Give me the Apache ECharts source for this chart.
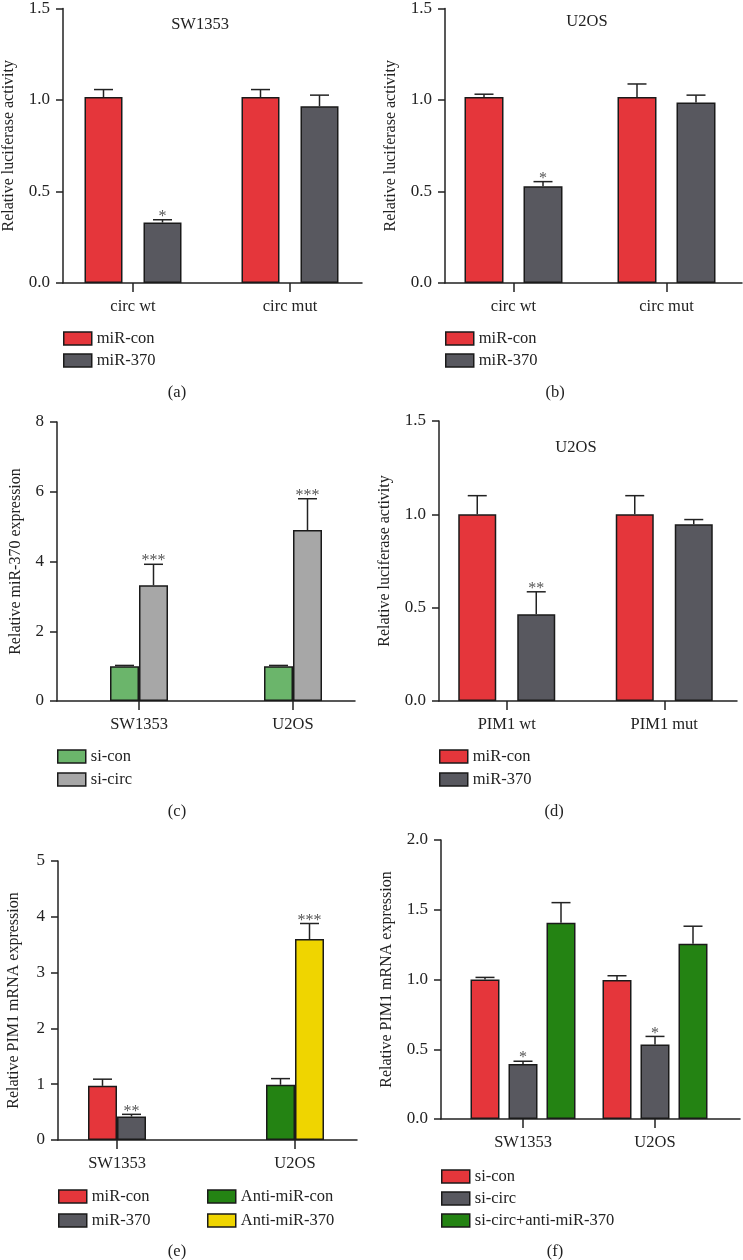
<!DOCTYPE html>
<html><head><meta charset="utf-8">
<script src="https://cdn.jsdelivr.net/npm/echarts@6/dist/echarts.min.js"></script>
<style>html,body{margin:0;padding:0;background:#fff}#c{width:743px;height:1260px}</style>
</head><body><div id="c"></div><script>
// ---------------- data ----------------
// (a) SW1353 luciferase
const catsA = ['circ wt', 'circ mut'];
const aCon = [1.0, 1.0];      const aConErr = [0.04, 0.04];
const a370 = [0.325, 0.95];   const a370Err = [0.015, 0.06];
const a370Sig = ['*', ''];
// (b) U2OS luciferase
const catsB = ['circ wt', 'circ mut'];
const bCon = [1.0, 1.0];      const bConErr = [0.015, 0.07];
const b370 = [0.52, 0.97];    const b370Err = [0.025, 0.04];
const b370Sig = ['*', ''];
// (c) miR-370 expression
const catsC = ['SW1353', 'U2OS'];
const cSiCon = [1.0, 1.0];    const cSiConErr = [0.02, 0.02];
const cSiCirc = [3.32, 4.9];  const cSiCircErr = [0.6, 0.9];
const cSiCircSig = ['***', '***'];
// (d) U2OS PIM1 luciferase
const catsD = ['PIM1 wt', 'PIM1 mut'];
const dCon = [1.0, 1.0];      const dConErr = [0.1, 0.1];
const d370 = [0.465, 0.947];  const d370Err = [0.12, 0.025];
const d370Sig = ['**', ''];
// (e) PIM1 mRNA
const catsE = ['SW1353', 'U2OS'];
const eCon = [0.97, null];     const eConErr = [0.12, null];
const e370 = [0.42, null];     const e370Err = [0.04, null];
const e370Sig = ['**', ''];
const eAntiCon = [null, 0.99]; const eAntiConErr = [null, 0.11];
const eAnti370 = [null, 3.6];  const eAnti370Err = [null, 0.28];
const eAnti370Sig = ['', '***'];
// (f) PIM1 mRNA rescue
const catsF = ['SW1353', 'U2OS'];
const fCon = [1.0, 0.997];     const fConErr = [0.015, 0.03];
const fCirc = [0.394, 0.534];  const fCircErr = [0.02, 0.058];
const fCircSig = ['*', '*'];
const fRescue = [1.406, 1.257]; const fRescueErr = [0.145, 0.125];

// ---------------- styles ----------------
const FONT = '"Liberation Serif", "Times New Roman", serif';
const INK = '#222';
const RED = '#E5363B', DGRAY = '#58585F', LGREEN = '#6BB56B', LGRAY = '#A7A7A7', DGREEN = '#248313', YELLOW = '#EFD500';
const CAP = 19;

const option = {
  animation: false,
  backgroundColor: '#fff',
  grid: [], xAxis: [], yAxis: [], series: [], legend: [], graphic: []
};

function addPanel(p) {
  const gi = option.grid.length;
  option.grid.push({left: p.frame[0], top: p.frame[1], width: p.frame[2], height: p.frame[3]});
  option.grid.push({left: p.bars[0], top: p.frame[1], width: p.bars[1], height: p.frame[3]});
  option.xAxis.push({gridIndex: gi, type: 'value', min: 0, max: 1, axisLine: {show: true, lineStyle: {color: INK, width: 1.5}},
    axisTick: {show: false}, axisLabel: {show: false}, splitLine: {show: false}});
  option.yAxis.push({gridIndex: gi, type: 'value', min: p.y[0], max: p.y[1], interval: p.y[2],
    axisLine: {show: true, lineStyle: {color: INK, width: 1.5}},
    axisTick: {show: true, length: 7, lineStyle: {color: INK, width: 1.5}},
    axisLabel: {margin: 13, formatter: v => p.dec ? v.toFixed(1) : String(v), color: INK, fontFamily: FONT, fontSize: 17},
    splitLine: {show: false},
    name: p.yName, nameLocation: 'middle', nameRotate: 90, nameGap: p.nameGap,
    nameTextStyle: {color: INK, fontFamily: FONT, fontSize: 16}});
  option.xAxis.push({gridIndex: gi + 1, type: 'category', data: p.cats,
    axisLine: {show: false}, axisTick: {show: true, alignWithLabel: true, length: 9, lineStyle: {color: INK, width: 1.5}},
    axisLabel: {margin: 15, color: INK, fontFamily: FONT, fontSize: 16.5}, splitLine: {show: false}});
  option.yAxis.push({gridIndex: gi + 1, type: 'value', min: p.y[0], max: p.y[1], show: false});

  const nSlots = p.nSlots || p.series.length;
  const errData = [], errSig = [];
  const colorOf = {};
  p.series.forEach((s, si) => {
    colorOf[s.name] = s.color;
    option.series.push({type: 'bar', name: s.name, xAxisIndex: gi + 1, yAxisIndex: gi + 1,
      data: s.data.map(v => v == null ? '-' : v), stack: s.stack, barWidth: p.barWidth,
      barGap: (p.gap / p.barWidth * 100) + '%',
      itemStyle: {color: s.color, borderColor: '#1a1a1a', borderWidth: 1.5}, z: 2});
    const slot = s.slot != null ? s.slot : si;
    const off = (slot - (nSlots - 1) / 2) * (p.barWidth + p.gap);
    s.data.forEach((v, ci) => {
      if (v == null) return;
      errData.push([ci, v, s.err[ci], off]);
      errSig.push(s.sig ? s.sig[ci] : '');
    });
  });
  option.series.push({type: 'custom', xAxisIndex: gi + 1, yAxisIndex: gi + 1, data: errData, z: 3, silent: true,
    renderItem: function (params, api) {
      const c = api.value(0), v = api.value(1), e = api.value(2), off = api.value(3);
      const b = api.coord([c, v]), t = api.coord([c, v + e]);
      const x = b[0] + off;
      const st = {stroke: INK, lineWidth: 1.5};
      const ch = [
        {type: 'line', shape: {x1: x, y1: b[1], x2: x, y2: t[1]}, style: st},
        {type: 'line', shape: {x1: x - CAP / 2, y1: t[1], x2: x + CAP / 2, y2: t[1]}, style: st}
      ];
      const sg = errSig[params.dataIndex];
      if (sg) ch.push({type: 'text', style: {text: sg, x: x, y: t[1] + 5, textAlign: 'center', textVerticalAlign: 'bottom',
        font: '16px ' + FONT, fill: '#555'}});
      return {type: 'group', children: ch};
    }});

  p.legends.forEach(L => {
    option.legend.push({
      data: L.names.map(n => ({name: n, itemStyle: {color: colorOf[n], borderColor: '#1a1a1a', borderWidth: 1.5}})),
      orient: 'vertical', left: L.left, top: L.top, padding: 0, itemWidth: 28, itemHeight: 13,
      itemGap: L.gap, icon: 'rect', selectedMode: false,
      textStyle: {color: INK, fontFamily: FONT, fontSize: 16.5}});
  });
  if (p.title) option.graphic.push({type: 'text', x: p.title[1], y: p.title[2],
    style: {text: p.title[0], font: '16.5px ' + FONT, fill: INK, textAlign: 'center', textVerticalAlign: 'middle'}});
  option.graphic.push({type: 'text', x: p.tag[1], y: p.tag[2],
    style: {text: p.tag[0], font: '16.5px ' + FONT, fill: INK, textAlign: 'center', textVerticalAlign: 'middle'}});
}

addPanel({frame: [63, 4, 299, 279], bars: [54.5, 314], y: [0, 1.5, 0.5], dec: true, cats: catsA,
  yName: 'Relative luciferase activity', nameGap: 46, barWidth: 38, gap: 21,
  series: [{name: 'miR-con', data: aCon, err: aConErr, color: RED},
           {name: 'miR-370', data: a370, err: a370Err, sig: a370Sig, color: DGRAY}],
  legends: [{names: ['miR-con', 'miR-370'], left: 63, top: 330, gap: 5}],
  title: ['SW1353', 200, 25], tag: ['(a)', 177, 393]});

addPanel({frame: [445, 4, 297, 279], bars: [437, 312], y: [0, 1.5, 0.5], dec: true, cats: catsB,
  yName: 'Relative luciferase activity', nameGap: 46, barWidth: 39, gap: 20,
  series: [{name: 'miR-con', data: bCon, err: bConErr, color: RED},
           {name: 'miR-370', data: b370, err: b370Err, sig: b370Sig, color: DGRAY}],
  legends: [{names: ['miR-con', 'miR-370'], left: 445, top: 330, gap: 5}],
  title: ['U2OS', 587, 22], tag: ['(b)', 555, 393]});

addPanel({frame: [57, 422, 298, 279], bars: [62, 308], y: [0, 8, 2], dec: false, cats: catsC,
  yName: 'Relative miR-370 expression', nameGap: 33, barWidth: 29, gap: 0,
  series: [{name: 'si-con', data: cSiCon, err: cSiConErr, color: LGREEN},
           {name: 'si-circ', data: cSiCirc, err: cSiCircErr, sig: cSiCircSig, color: LGRAY}],
  legends: [{names: ['si-con', 'si-circ'], left: 57, top: 748, gap: 6}],
  tag: ['(c)', 177, 812]});

addPanel({frame: [439, 421, 298, 280], bars: [428, 316], y: [0, 1.5, 0.5], dec: true, cats: catsD,
  yName: 'Relative luciferase activity', nameGap: 46, barWidth: 38, gap: 21,
  series: [{name: 'miR-con', data: dCon, err: dConErr, color: RED},
           {name: 'miR-370', data: d370, err: d370Err, sig: d370Sig, color: DGRAY}],
  legends: [{names: ['miR-con', 'miR-370'], left: 439, top: 748, gap: 6}],
  title: ['U2OS', 576, 448], tag: ['(d)', 554, 812]});

addPanel({frame: [58, 861, 299, 279], bars: [28, 356], y: [0, 5, 1], dec: false, cats: catsE,
  yName: 'Relative PIM1 mRNA expression', nameGap: 36, barWidth: 29, gap: 0, nSlots: 2,
  series: [{name: 'miR-con', data: eCon, err: eConErr, color: RED, stack: 'L', slot: 0},
           {name: 'miR-370', data: e370, err: e370Err, sig: e370Sig, color: DGRAY, stack: 'R', slot: 1},
           {name: 'Anti-miR-con', data: eAntiCon, err: eAntiConErr, color: DGREEN, stack: 'L', slot: 0},
           {name: 'Anti-miR-370', data: eAnti370, err: eAnti370Err, sig: eAnti370Sig, color: YELLOW, stack: 'R', slot: 1}],
  legends: [{names: ['miR-con', 'miR-370'], left: 58, top: 1188, gap: 7},
            {names: ['Anti-miR-con', 'Anti-miR-370'], left: 207, top: 1188, gap: 7}],
  tag: ['(e)', 177, 1252]});

addPanel({frame: [441, 840, 299, 279], bars: [457, 264], y: [0, 2, 0.5], dec: true, cats: catsF,
  yName: 'Relative PIM1 mRNA expression', nameGap: 46, barWidth: 29, gap: 9,
  series: [{name: 'si-con', data: fCon, err: fConErr, color: RED},
           {name: 'si-circ', data: fCirc, err: fCircErr, sig: fCircSig, color: DGRAY},
           {name: 'si-circ+anti-miR-370', data: fRescue, err: fRescueErr, color: DGREEN}],
  legends: [{names: ['si-con', 'si-circ', 'si-circ+anti-miR-370'], left: 441, top: 1168, gap: 5}],
  tag: ['(f)', 555, 1252]});

const chart = echarts.init(document.getElementById('c'), null, {renderer: 'canvas'});
chart.setOption(option);
</script></body></html>
